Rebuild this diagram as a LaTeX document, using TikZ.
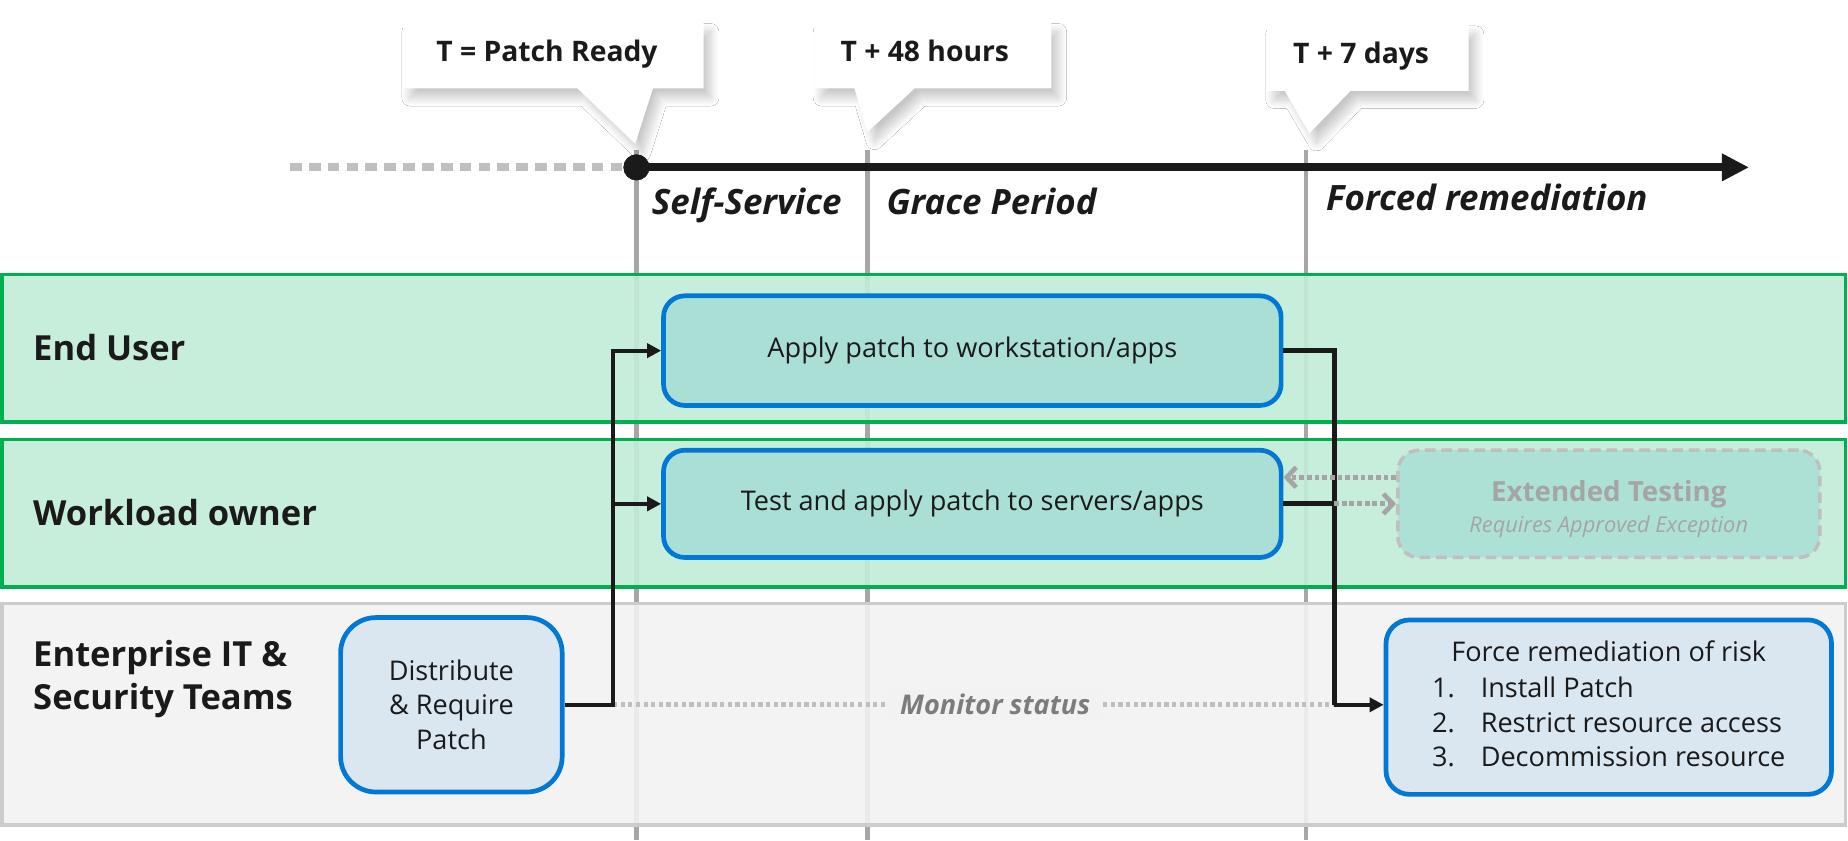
\documentclass[tikz,border=0pt]{standalone}
\usepackage{fontspec}
\setmainfont{Open Sans}
\usetikzlibrary{arrows.meta,shadows.blur}

\definecolor{lanegreen}{HTML}{C2EDD7}
\definecolor{laneedge}{HTML}{00B050}
\definecolor{lanegray}{HTML}{F2F2F2}
\definecolor{laneline}{HTML}{CCCCCC}
\definecolor{taskfill}{HTML}{AADFD5}
\definecolor{taskblue}{HTML}{0078D4}
\definecolor{itfill}{HTML}{DAE6F0}
\definecolor{tickgray}{HTML}{A6A6A6}
\definecolor{dotgray}{HTML}{BFBFBF}
\definecolor{fadegray}{HTML}{A5A5A5}
\definecolor{inkblack}{HTML}{1A1A1A}

\newcommand{\calloutfont}{\fontsize{24}{29}\selectfont\bfseries}
\newcommand{\phasefont}{\fontsize{29.6}{35}\selectfont\bfseries\itshape}
\newcommand{\lanefont}{\fontsize{29.3}{37}\selectfont\bfseries}
\newcommand{\taskfont}{\fontsize{23}{29.5}\selectfont}

\begin{document}
\begin{tikzpicture}[x=1pt,y=-1pt,
  callout/.style={fill=white,blur shadow={shadow xshift=6pt,shadow yshift=-8pt,shadow blur radius=7pt,shadow opacity=22,shadow blur steps=16}},
  phaseline/.style={tickgray,line width=3.5pt},
  phase/.style={anchor=base west,inner sep=0pt,font=\phasefont,text=inkblack},
  lane/.style={draw=laneedge,fill=lanegreen,fill opacity=0.9,line width=3pt},
  itlane/.style={draw=laneline,fill=lanegray,fill opacity=0.9,line width=3pt},
  lanelabel/.style={anchor=base west,inner sep=0pt,font=\lanefont,text=inkblack},
  task/.style={draw=taskblue,fill=taskfill,line width=4pt,rounded corners=18pt,inner sep=0pt,font=\taskfont,align=center,text=inkblack},
  link/.style={inkblack,line width=3.5pt,-{Triangle[length=12pt,width=12pt]}},
  testlink/.style={fadegray,line width=4pt,dash pattern=on 4pt off 2.5pt,-{Straight Barb[length=8pt,width=17pt]}},
]
\useasboundingbox (0,0) rectangle (1568,713);
\fill[white] (0,0) rectangle (1568,713);

% phase boundaries
\draw[phaseline] (540,127) -- (540,713);
\draw[phaseline] (736,127) -- (736,713);
\draw[phaseline] (1108,127) -- (1108,713);

% timeline
\coordinate (tstart) at (246,142);
\coordinate (tend) at (1484,142);
\node[circle,fill=inkblack,minimum size=22pt,inner sep=0pt] (tzero) at (540,142) {};
\draw[dotgray,line width=7pt,dash pattern=on 10pt off 6pt] (tstart) -- (tzero.west);
\draw[inkblack,line width=7pt,-{Triangle[length=23pt,width=22pt]}] (tzero.center) -- (tend);
\node[circle,fill=inkblack,minimum size=22pt,inner sep=0pt] at (tzero) {};

% callouts
\fill[callout] (342,19) -- (597,19) -- (597,75) -- (554,75) -- (539,122) -- (490,75) -- (342,75) -- cycle;
\node[anchor=base west,inner sep=0pt,font=\calloutfont,text=inkblack] (tready) at (370,52) {T = Patch Ready};
\fill[callout] (691,19) -- (892,19) -- (892,75) -- (776,75) -- (736,112) -- (725,75) -- (691,75) -- cycle;
\node[anchor=base west,inner sep=0pt,font=\calloutfont,text=inkblack] (tfortyeight) at (713,52) {T + 48 hours};
\fill[callout] (1075,21) -- (1246,21) -- (1246,77) -- (1146,77) -- (1111,113) -- (1090,77) -- (1075,77) -- cycle;
\node[anchor=base west,inner sep=0pt,font=\calloutfont,text=inkblack] (tseven) at (1097,54) {T + 7 days};

% phase names
\node[phase] (selfsvc) at (553,182) {Self-Service};
\node[phase] (grace) at (752,182) {Grace Period};
\node[phase] (forced) at (1125,179) {Forced remediation};

% lanes
\filldraw[lane] (1.5,233) rectangle (1566,358);
\filldraw[lane] (1.5,373) rectangle (1566,498);
\filldraw[itlane] (1.5,512) rectangle (1566,700);
\node[lanelabel] (enduser) at (28,306) {End User};
\node[lanelabel] (owner) at (28,446) {Workload owner};
\node[lanelabel,anchor=west,align=left] (itsec) at (28,576) {Enterprise IT \&\\Security Teams};

% tasks
\node[task,minimum width=524pt,minimum height=93pt] (apply) at (825,297.5) {Apply patch to workstation/apps};
\node[task,minimum width=524pt,minimum height=91pt] (test) at (825,427.5) {Test and apply patch to servers/apps};
\node[task,draw=dotgray,dash pattern=on 9pt off 5pt,line width=3pt,fill=taskfill!85!lanegreen,minimum width=358pt,minimum height=91pt,text=fadegray] (ext) at (1365,427.5) {\rule{0pt}{27pt}{\fontsize{23.5}{27}\selectfont\bfseries Extended Testing}\\[-3pt]{\fontsize{18.5}{24}\selectfont\itshape Requires Approved Exception}};
\node[task,fill=itfill,rounded corners=30pt,minimum width=188pt,minimum height=148pt] (dist) at (383,598) {Distribute\\\& Require\\Patch};
\node[task,fill=itfill,rounded corners=20pt,minimum width=378pt,minimum height=148pt] (force) at (1365,600) {\begin{tabular}{@{}l@{\hspace{22pt}}l@{}}\multicolumn{2}{c}{Force remediation of risk}\\[1pt]1. & Install Patch\\2. & Restrict resource access\\3. & Decommission resource\end{tabular}};

% connectors
\coordinate (split) at (520,598);
\coordinate (merge) at (1132,598);
\coordinate (testjoin) at (1132,427.5);
\draw[dotgray,line width=4pt,dash pattern=on 3.5pt off 3pt] (split) -- (merge) node[pos=0.53,fill=lanegray,inner xsep=10pt,inner ysep=4pt,font=\fontsize{23}{28}\selectfont\bfseries\itshape,text=fadegray!75!black] (monitor) {Monitor status};
\draw[link] (dist.east) -- (split) |- (apply.west);
\draw[link] (split) |- (test.west);
\draw[inkblack,line width=4pt] (apply.east) -| (merge);
\draw[link] (merge) -- (force.west |- merge);
\draw[inkblack,line width=4pt] (test.east) -- (testjoin);
\draw[testlink] (testjoin) -- (ext.west |- testjoin);
\draw[testlink] ([yshift=22.5pt]ext.west |- testjoin) -- ([yshift=22.5pt]test.east);
\end{tikzpicture}
\end{document}
